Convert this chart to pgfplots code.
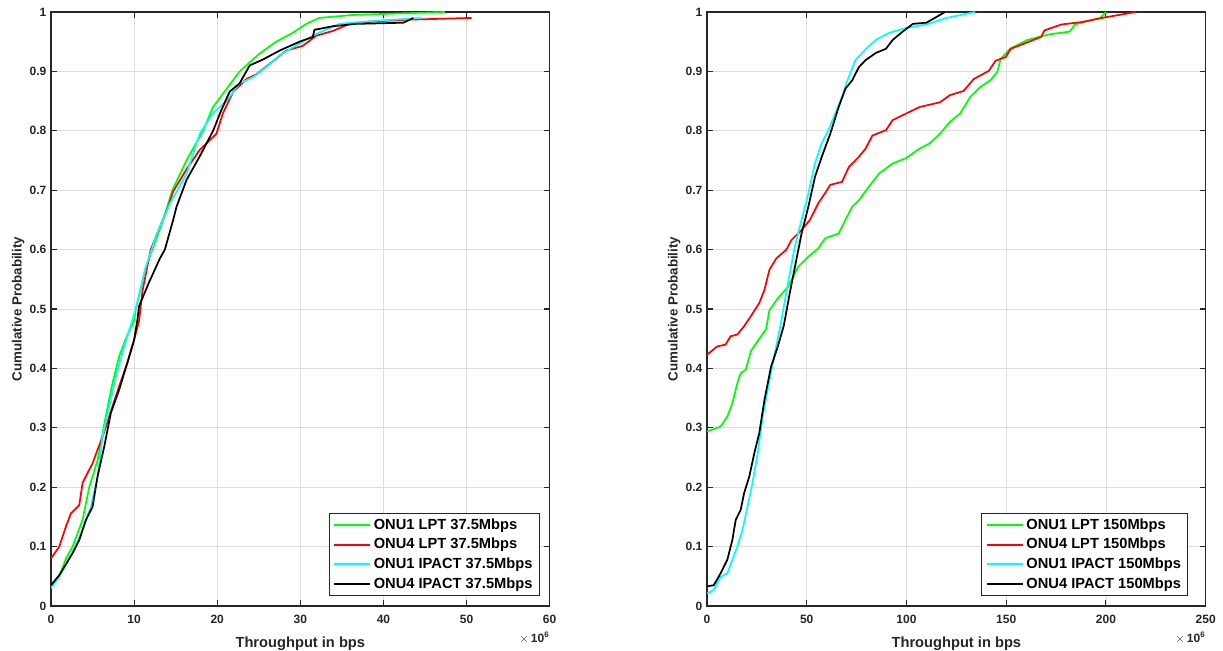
\documentclass[border=0pt]{standalone}
\usepackage{pgfplots}
\pgfplotsset{compat=1.18}
\usepackage{fontspec}
\setmainfont{Liberation Sans}
\definecolor{mgreen}{RGB}{0,255,0}
\definecolor{mred}{RGB}{255,0,0}
\definecolor{mcyan}{RGB}{0,255,255}
\definecolor{axc}{RGB}{38,38,38}
\pgfplotsset{
  cdfaxis/.style={
    scale only axis, width=374pt, height=445.5pt,
    xmin=0, ymin=0, ymax=1,
    ytick={0,0.1,0.2,0.3,0.4,0.5,0.6,0.7,0.8,0.9,1},
    yticklabels={0,0.1,0.2,0.3,0.4,0.5,0.6,0.7,0.8,0.9,1},
    grid=major, major grid style={black!13, line width=0.6pt},
    axis line style={axc, line width=0.8pt},
    tick align=inside, major tick length=4.5pt,
    tick style={axc, line width=0.8pt},
    xtick pos=both, ytick pos=both,
    xticklabel pos=lower, yticklabel pos=left,
    /pgf/number format/assume math mode=true,
    tick label style={font=\bfseries\fontsize{9}{10}\selectfont, text=axc},
    xticklabel style={yshift=-3pt},
    xlabel={Throughput in bps}, ylabel={Cumulative Probability},
    x label style={at={(axis description cs:0.5,-0.063)}, anchor=center, font=\bfseries\fontsize{11}{12}\selectfont, text=axc},
    y label style={at={(axis description cs:-0.066,0.5)}, anchor=center, rotate=0, font=\bfseries\fontsize{10}{12}\selectfont, text=axc},
    legend cell align=left,
    legend style={at={(axis description cs:0.98,0.017)}, anchor=south east,
      font=\bfseries\fontsize{11}{12}\selectfont, draw=axc, line width=0.8pt,
      row sep=1.2pt, inner xsep=3pt, inner ysep=2pt},
    legend image code/.code={\draw[#1, line width=1.4pt] (0pt,0pt) -- (27pt,0pt);},
    every axis plot/.append style={line width=1.3pt},
  }
}
\begin{document}
\begin{tikzpicture}[x=1pt,y=1pt]
\useasboundingbox (-38.25,-33) rectangle (879,454.5);
\begin{axis}[cdfaxis, name=axl, at={(0pt,0pt)}, anchor=south west, xmax=60, xtick={0,10,20,30,40,50,60}]
\addplot[mgreen] coordinates {
(0,0.033) (1.0,0.05) (1.8,0.08) (2.6,0.1) (3.8,0.145) (4.6,0.2) (5.6,0.245) (6.2,0.29) (6.6,0.32) (7.4,0.375) (8.2,0.42) (9.0,0.45) (10.0,0.48) (10.2,0.5) (11.4,0.57) (12.2,0.6) (13.5,0.65) (14.6,0.7) (16.3,0.75) (18.3,0.8) (19.5,0.84) (21.1,0.87) (22.7,0.9) (23.9,0.915) (25.1,0.93) (27.1,0.95) (29.1,0.965) (30.7,0.98) (32.3,0.99) (36.3,0.995) (47.4,1.0)};
\addlegendentry{ONU1 LPT 37.5Mbps}
\addplot[mred] coordinates {
(0,0.08) (1.0,0.1) (1.8,0.134) (2.4,0.156) (3.4,0.17) (3.8,0.207) (4.4,0.224) (5.0,0.24) (5.6,0.263) (6.2,0.285) (6.8,0.31) (7.4,0.336) (8.2,0.37) (9.2,0.41) (10.0,0.448) (10.6,0.48) (11.0,0.53) (12.0,0.6) (13.1,0.638) (14.1,0.672) (14.7,0.698) (16.3,0.735) (17.9,0.768) (19.9,0.795) (20.7,0.83) (21.9,0.865) (23.5,0.887) (24.7,0.895) (26.7,0.917) (28.3,0.935) (30.3,0.943) (31.9,0.96) (33.9,0.968) (35.9,0.98) (38.8,0.984) (42.8,0.987) (50.6,0.99)};
\addlegendentry{ONU4 LPT 37.5Mbps}
\addplot[mcyan] coordinates {
(0,0.03) (1.0,0.05) (2.6,0.09) (3.8,0.128) (4.8,0.167) (5.6,0.218) (6.2,0.285) (7.0,0.336) (7.8,0.386) (8.8,0.437) (9.8,0.482) (10.2,0.5) (11.4,0.57) (12.7,0.625) (14.3,0.677) (16.3,0.727) (17.9,0.795) (19.5,0.83) (21.1,0.85) (22.7,0.88) (24.3,0.89) (25.9,0.907) (27.5,0.927) (29.9,0.947) (31.9,0.963) (34.7,0.98) (38.8,0.985) (44.6,0.99)};
\addlegendentry{ONU1 IPACT 37.5Mbps}
\addplot[black] coordinates {
(0,0.035) (1.0,0.052) (2.6,0.089) (3.4,0.111) (4.2,0.145) (5.0,0.167) (5.6,0.218) (6.4,0.268) (7.2,0.325) (8.2,0.364) (9.2,0.41) (10.0,0.448) (10.4,0.482) (10.6,0.505) (11.8,0.545) (13.1,0.585) (13.7,0.6) (14.7,0.65) (15.1,0.672) (16.3,0.717) (17.9,0.757) (19.5,0.8) (20.5,0.835) (21.5,0.866) (22.7,0.88) (23.9,0.91) (25.5,0.92) (27.5,0.935) (29.9,0.95) (31.5,0.958) (31.7,0.97) (33.9,0.976) (36.7,0.98) (42.4,0.982) (43.6,0.99)};
\addlegendentry{ONU4 IPACT 37.5Mbps}
\end{axis}
\node[anchor=north east, inner sep=0pt, font=\bfseries\fontsize{9}{10}\selectfont, text=axc] at ([yshift=-19.5pt]axl.south east) {$\times$\,10\textsuperscript{6}};
\begin{axis}[cdfaxis, name=axr, at={(492pt,0pt)}, anchor=south west, xmax=250, xtick={0,50,100,150,200,250},
  legend style={at={(axis description cs:0.965,0.017)}}]
\addplot[mgreen] coordinates {
(0,0.294) (6.8,0.302) (10.2,0.319) (12.7,0.341) (15.2,0.375) (16.9,0.392) (19.5,0.398) (22.0,0.429) (25.4,0.446) (29.6,0.466) (31.3,0.498) (35.5,0.518) (40.6,0.537) (45.7,0.571) (50.8,0.588) (55.8,0.602) (59.2,0.619) (66.0,0.627) (69.4,0.65) (72.8,0.672) (76.1,0.683) (81.2,0.706) (86.3,0.728) (93.1,0.745) (99.8,0.754) (106.6,0.77) (111.7,0.779) (116.8,0.795) (121.8,0.815) (126.9,0.829) (132.0,0.857) (137.1,0.874) (142.1,0.885) (145.5,0.899) (147.2,0.921) (152.3,0.939) (160.7,0.953) (171.0,0.962) (181.9,0.967) (184.4,0.979) (197.1,0.99) (200,1.0)};
\addlegendentry{ONU1 LPT 150Mbps}
\addplot[mred] coordinates {
(0,0.423) (5.1,0.437) (9.3,0.44) (11.8,0.454) (15.2,0.457) (18.6,0.471) (22.0,0.488) (26.2,0.51) (28.8,0.532) (31.3,0.566) (34.7,0.585) (39.8,0.6) (42.3,0.616) (47.4,0.633) (51.6,0.65) (55.8,0.678) (59.2,0.695) (61.8,0.709) (67.7,0.714) (71.1,0.739) (76.1,0.756) (79.5,0.77) (82.9,0.792) (89.7,0.801) (93.1,0.818) (99.8,0.829) (106.6,0.84) (116.8,0.848) (121.8,0.86) (128.6,0.867) (133.7,0.887) (141.3,0.901) (144.7,0.918) (149.7,0.924) (152.3,0.938) (160.7,0.949) (167.5,0.958) (169.2,0.969) (177.7,0.979) (187.8,0.983) (199.7,0.991) (214.9,1.0)};
\addlegendentry{ONU4 LPT 150Mbps}
\addplot[mcyan] coordinates {
(0,0.021) (3.4,0.027) (6.8,0.049) (10.2,0.055) (12.7,0.078) (15.2,0.1) (17.8,0.128) (20.3,0.167) (22.8,0.207) (25.4,0.257) (27.9,0.319) (31.3,0.38) (34.7,0.437) (36.8,0.472) (40.6,0.543) (44.0,0.605) (47.4,0.65) (50.8,0.694) (54.1,0.745) (57.5,0.779) (60.9,0.801) (64.3,0.829) (67.7,0.857) (70.2,0.883) (74.4,0.919) (79.5,0.937) (84.6,0.953) (91.4,0.965) (99.8,0.973) (110.0,0.979) (120.1,0.99) (134.5,1.0)};
\addlegendentry{ONU1 IPACT 150Mbps}
\addplot[black] coordinates {
(0,0.033) (3.4,0.035) (6.8,0.055) (10.2,0.078) (12.7,0.111) (14.4,0.145) (16.9,0.162) (18.6,0.19) (21.2,0.218) (23.7,0.257) (26.2,0.291) (28.8,0.347) (32.1,0.403) (35.5,0.437) (38.5,0.472) (41.5,0.527) (44.8,0.583) (47.4,0.627) (50.8,0.672) (54.1,0.722) (57.5,0.756) (61.8,0.795) (66.0,0.84) (69.4,0.871) (72.8,0.885) (76.1,0.907) (79.5,0.919) (84.6,0.931) (89.7,0.938) (93.1,0.953) (98.1,0.967) (103.2,0.98) (110.0,0.982) (114.2,0.99) (119.3,1.0)};
\addlegendentry{ONU4 IPACT 150Mbps}
\end{axis}
\node[anchor=north east, inner sep=0pt, font=\bfseries\fontsize{9}{10}\selectfont, text=axc] at ([yshift=-19.5pt]axr.south east) {$\times$\,10\textsuperscript{6}};
\end{tikzpicture}
\end{document}
